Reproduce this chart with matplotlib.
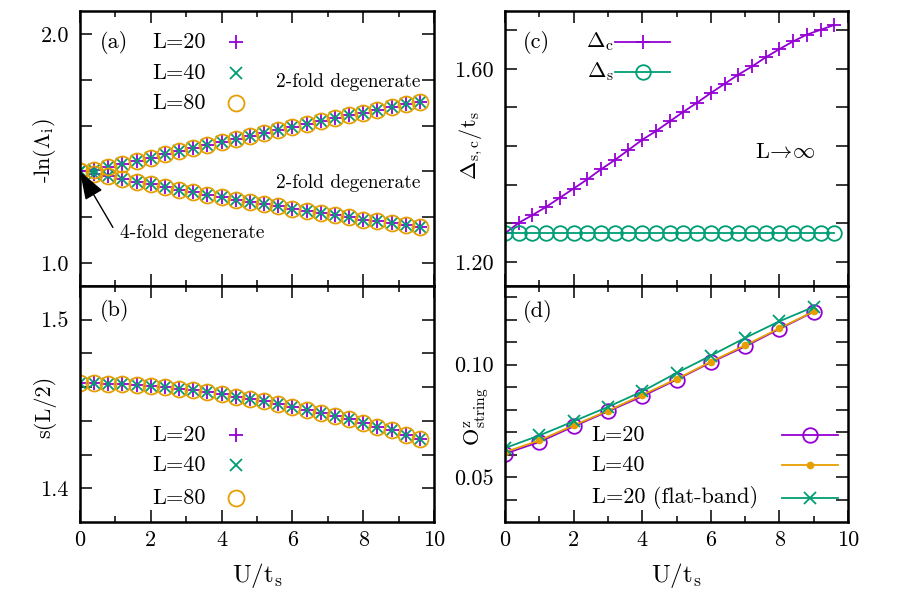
import matplotlib
matplotlib.use("Agg")
import matplotlib.pyplot as plt
import numpy as np

plt.rcParams['font.family'] = 'serif'
plt.rcParams['font.serif'] = ['cmr10']
plt.rcParams['mathtext.fontset'] = 'cm'
plt.rcParams['axes.formatter.use_mathtext'] = True
plt.rcParams['font.size'] = 16

PURPLE = '#9400d3'
GREEN = '#009e73'
ORANGE = '#e69f00'

# ---------------- data ----------------
U_fine = [0.0, 0.4, 0.8, 1.2, 1.6, 2.0, 2.4, 2.8, 3.2, 3.6, 4.0, 4.4, 4.8,
          5.2, 5.6, 6.0, 6.4, 6.8, 7.2, 7.6, 8.0, 8.4, 8.8, 9.2, 9.6]

# panel (a): entanglement spectrum levels (identical for L=20,40,80 within resolution)
lam_upper = [1.400, 1.408, 1.419, 1.432, 1.446, 1.460, 1.474, 1.488, 1.502, 1.516,
             1.529, 1.543, 1.556, 1.569, 1.582, 1.595, 1.608, 1.620, 1.633, 1.645,
             1.657, 1.669, 1.681, 1.693, 1.705]
lam_lower = [1.400, 1.389, 1.378, 1.366, 1.355, 1.343, 1.332, 1.321, 1.310, 1.299,
             1.288, 1.277, 1.267, 1.257, 1.247, 1.237, 1.227, 1.218, 1.208, 1.199,
             1.190, 1.182, 1.174, 1.166, 1.159]

# panel (b): entanglement entropy s(L/2)
s_half = [1.4622, 1.4622, 1.4620, 1.4616, 1.4612, 1.4606, 1.4598, 1.4591, 1.4581,
          1.4569, 1.4557, 1.4543, 1.4529, 1.4516, 1.4500, 1.4484, 1.4467, 1.4449,
          1.4429, 1.4409, 1.4387, 1.4366, 1.4343, 1.4319, 1.4295]

# panel (c): gaps
gap_c = [1.259, 1.281, 1.297, 1.314, 1.333, 1.352, 1.371, 1.392, 1.411, 1.432,
         1.453, 1.471, 1.491, 1.511, 1.530, 1.550, 1.569, 1.588, 1.605, 1.624,
         1.641, 1.657, 1.671, 1.681, 1.691]
gap_s = [1.259] * 25

# panel (d): string order parameter
U_int = [0, 1, 2, 3, 4, 5, 6, 7, 8, 9]
O_L20 = [0.0604, 0.0656, 0.0725, 0.0792, 0.0859, 0.0933, 0.1010, 0.1081, 0.1159, 0.1235]
O_L40 = [0.0611, 0.0663, 0.0730, 0.0795, 0.0865, 0.0936, 0.1013, 0.1086, 0.1162, 0.1237]
O_flat = [0.0629, 0.0685, 0.0748, 0.0812, 0.0881, 0.0963, 0.1040, 0.1119, 0.1193, 0.1257]

labels_L = ['L=20', 'L=40', 'L=80']
labels_d = ['L=20', 'L=40', 'L=20 (flat-band)']

# ---------------- figure ----------------
fig = plt.figure(figsize=(9, 6), dpi=100)
W, H = 900.0, 600.0
def rect(l, t, r, b):
    return [l / W, 1 - b / H, (r - l) / W, (b - t) / H]

axa = fig.add_axes(rect(80, 11, 434, 286))
axb = fig.add_axes(rect(80, 286, 434, 522))
axc = fig.add_axes(rect(505, 11, 848, 286))
axd = fig.add_axes(rect(505, 286, 848, 522))

def style(ax, yticks, ylabels, show_x):
    for sp in ax.spines.values():
        sp.set_linewidth(1.8)
    ax.set_xlim(0, 10)
    ax.set_xticks([0, 2, 4, 6, 8, 10])
    ax.set_xticks([1, 3, 5, 7, 9], minor=True)
    ax.set_yticks(yticks)
    ax.set_yticklabels(ylabels)
    ax.tick_params(which='both', direction='in', top=True, right=True, width=1.1)
    ax.tick_params(axis='x', which='major', length=8.6, pad=6)
    ax.tick_params(axis='x', which='minor', length=4.3)
    ax.tick_params(axis='y', which='major', length=8.6, pad=8)
    if show_x:
        ax.set_xticklabels(['0', '2', '4', '6', '8', '10'])
    else:
        ax.set_xticklabels([])

def key(ax, xt, y, label, xs0, xs1, xm, ha='left', **kw):
    ax.text(xt, y, label, transform=ax.transAxes, ha=ha, va='center')
    if xs0 is not None:
        ax.plot([xs0, xs1], [y, y], transform=ax.transAxes, color=kw['color'],
                lw=kw.get('lw', 1.3), clip_on=False)
    ax.plot([xm], [y], transform=ax.transAxes, linestyle='none', clip_on=False,
            **{k: v for k, v in kw.items() if k != 'lw'})

# ---- (a)
mk_a = [dict(marker='+', ms=10, mew=1.3, color=PURPLE),
        dict(marker='x', ms=8.5, mew=1.3, color=GREEN),
        dict(marker='o', ms=11.5, mew=1.3, mfc='none', color=ORANGE)]
for m in mk_a:
    axa.plot(U_fine, lam_upper, linestyle='none', **m)
    axa.plot(U_fine, lam_lower, linestyle='none', **m)
axa.set_ylim(0.9, 2.1)
style(axa, [1.0, 1.2, 1.4, 1.6, 1.8, 2.0], ['1.0', '', '', '', '', '2.0'], False)
axa.text(0.0565, 0.887, '(a)', transform=axa.transAxes, ha='left', va='center')
for lab, y, m in zip(labels_L, [0.887, 0.775, 0.665], mk_a):
    key(axa, 0.203, y, lab, None, None, 0.441, **m)
axa.text(0.962, 0.743, '2-fold degenerate', transform=axa.transAxes, ha='right',
         va='center', fontsize=14)
axa.text(0.962, 0.373, '2-fold degenerate', transform=axa.transAxes, ha='right',
         va='center', fontsize=14)
axa.text(0.113, 0.193, '4-fold degenerate', transform=axa.transAxes, ha='left',
         va='center', fontsize=14)
axa.annotate('', xy=(U_fine[0], lam_upper[0]), xycoords='data',
             xytext=(0.093, 0.213), textcoords='axes fraction',
             arrowprops=dict(arrowstyle='-|>,head_length=0.8,head_width=0.28',
                             color='black', lw=1.0, mutation_scale=22,
                             shrinkA=0, shrinkB=0))
axa.set_ylabel(r'-ln($\Lambda_{\rm i}$)')
axa.yaxis.set_label_coords(-0.099, 0.494)
axa.yaxis.label.set_va('center')

# ---- (b)
for m in mk_a:
    axb.plot(U_fine, s_half, linestyle='none', **m)
axb.set_ylim(1.38, 1.52)
style(axb, [1.40, 1.42, 1.44, 1.46, 1.48, 1.50], ['1.4', '', '', '', '', '1.5'], True)
axb.text(0.0565, 0.898, '(b)', transform=axb.transAxes, ha='left', va='center')
for lab, y, m in zip(labels_L, [0.369, 0.242, 0.102], mk_a):
    key(axb, 0.203, y, lab, None, None, 0.441, **m)
axb.set_ylabel('s(L/2)')
axb.yaxis.set_label_coords(-0.099, 0.487)
axb.yaxis.label.set_va('center')
axb.set_xlabel(r'U/t$_{\rm s}$', fontsize=18)
axb.xaxis.set_label_coords(0.5, -0.225)
axb.xaxis.label.set_va('center')

# ---- (c)
mk_c = dict(marker='+', ms=10, mew=1.3, color=PURPLE, lw=1.3)
mk_s = dict(marker='o', ms=10.5, mew=1.3, mfc='none', color=GREEN, lw=1.3)
axc.plot(U_fine, gap_c, **mk_c)
axc.plot(U_fine, gap_s, **mk_s)
axc.set_ylim(1.15, 1.72)
style(axc, [1.20, 1.28, 1.36, 1.44, 1.52, 1.60, 1.68],
      ['1.20', '', '', '', '', '1.60', ''], False)
axc.text(0.0525, 0.887, '(c)', transform=axc.transAxes, ha='left', va='center')
key(axc, 0.318, 0.887, r'$\Delta_{\rm c}$', 0.32, 0.481, 0.401, ha='right', **mk_c)
key(axc, 0.318, 0.778, r'$\Delta_{\rm s}$', 0.32, 0.481, 0.401, ha='right', **mk_s)
axc.text(0.729, 0.488, r'L$\!\rightarrow\!\infty$', transform=axc.transAxes,
         ha='left', va='center')
axc.set_ylabel(r'$\Delta_{\rm s,c}/{\rm t}_{\rm s}$')
axc.yaxis.set_label_coords(-0.097, 0.513)
axc.yaxis.label.set_va('center')

# ---- (d)
mk_d = [dict(marker='o', ms=10.5, mew=1.3, mfc='none', color=PURPLE, lw=1.3),
        dict(marker='o', ms=4.5, color=ORANGE, lw=1.3),
        dict(marker='x', ms=9, mew=1.3, color=GREEN, lw=1.3)]
for ys, m in zip([O_L20, O_L40, O_flat], mk_d):
    axd.plot(U_int, ys, **m)
axd.set_ylim(0.03, 0.135)
style(axd, [0.04, 0.05, 0.06, 0.07, 0.08, 0.09, 0.10, 0.11, 0.12, 0.13],
      ['', '0.05', '', '', '', '', '0.10', '', '', ''], True)
axd.text(0.0525, 0.89, '(d)', transform=axd.transAxes, ha='left', va='center')
for lab, y, m in zip(labels_d, [0.369, 0.242, 0.102], mk_d):
    key(axd, 0.253, y, lab, 0.807, 0.971, 0.889, **m)
axd.set_ylabel(r'O$^{\rm z}_{\rm string}$')
axd.yaxis.set_label_coords(-0.0825, 0.446)
axd.yaxis.label.set_va('center')
axd.set_xlabel(r'U/t$_{\rm s}$', fontsize=18)
axd.xaxis.set_label_coords(0.5, -0.225)
axd.xaxis.label.set_va('center')

fig.savefig('out.png', dpi=100)
